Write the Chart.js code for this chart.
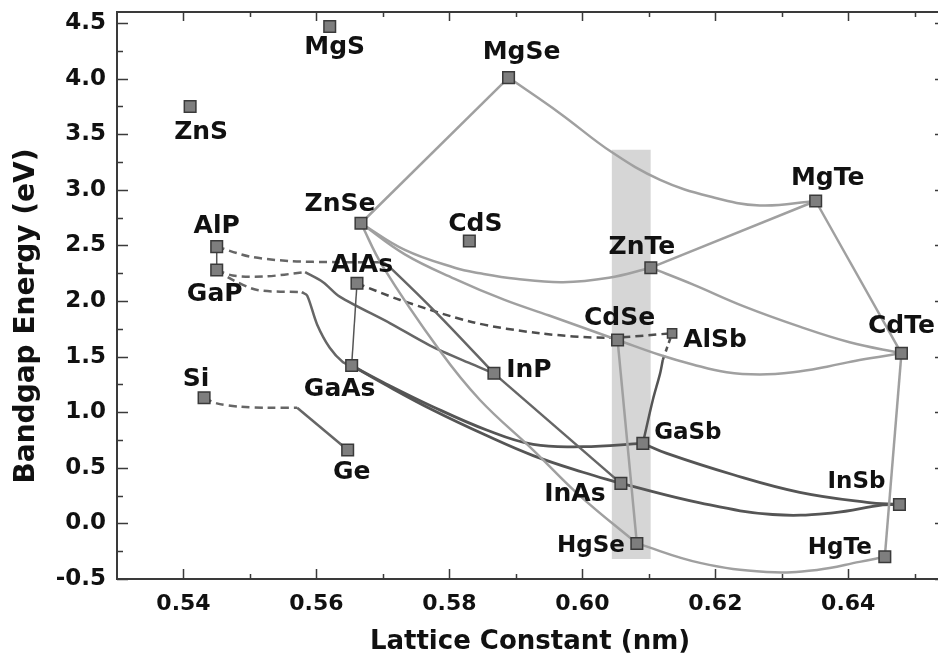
<!DOCTYPE html>
<html>
<head>
<meta charset="utf-8">
<script src="https://cdn.jsdelivr.net/npm/chart.js@4.4.1/dist/chart.umd.min.js"></script>
<style>
  html, body { margin: 0; padding: 0; background: #fff; }
</style>
</head>
<body>
<canvas id="chart" width="938" height="660"></canvas>
<script>
// ---- data ----
const compounds = ['MgS', 'ZnS', 'AlP', 'GaP', 'ZnSe', 'AlAs', 'CdS', 'MgSe', 'MgTe', 'ZnTe', 'CdSe',
                   'AlSb', 'CdTe', 'InP', 'GaAs', 'Si', 'Ge', 'GaSb', 'InAs', 'InSb', 'HgSe', 'HgTe'];
const latticeNm = [0.562, 0.541, 0.545, 0.545, 0.5667, 0.5661, 0.583, 0.5889, 0.6351, 0.6103, 0.6053,
                   0.6135, 0.648, 0.5867, 0.5653, 0.5431, 0.5647, 0.6091, 0.6058, 0.6477, 0.6082, 0.6455];
const bandgapEv = [4.47, 3.75, 2.49, 2.28, 2.70, 2.16, 2.54, 4.01, 2.90, 2.30, 1.65,
                   1.71, 1.53, 1.35, 1.42, 1.13, 0.66, 0.72, 0.36, 0.17, -0.18, -0.30];

const xTickValues = [0.54, 0.56, 0.58, 0.60, 0.62, 0.64];
const xMinorTicks = [0.55, 0.57, 0.59, 0.61, 0.63, 0.65];
const yTickValues = [-0.5, 0, 0.5, 1.0, 1.5, 2.0, 2.5, 3.0, 3.5, 4.0, 4.5];
const yMinorTicks = [-0.25, 0.25, 0.75, 1.25, 1.75, 2.25, 2.75, 3.25, 3.75, 4.25];

// grey window around 6.1 A
const windowLattice = [0.6044, 0.6103];
const windowEnergy = [-0.32, 3.36];

// II-VI alloys (light grey)
const znseMgse = [[0.5667, 2.70], [0.5889, 4.01]];
const mgseMgte = [[0.5889, 4.01], [0.5966, 3.69], [0.6044, 3.34], [0.6117, 3.09], [0.6192, 2.94], [0.6267, 2.86], [0.6351, 2.90]];
const znteMgte = [[0.6103, 2.30], [0.6351, 2.90]];
const mgteCdte = [[0.6351, 2.90], [0.648, 1.53]];
const znseZnte = [[0.5667, 2.70], [0.5733, 2.46], [0.5808, 2.30], [0.5846, 2.25], [0.5900, 2.20], [0.5971, 2.17], [0.6040, 2.21], [0.6103, 2.30]];
const znseCdse = [[0.5667, 2.70], [0.5733, 2.42], [0.5808, 2.20], [0.5883, 2.01], [0.5950, 1.87], [0.6011, 1.74], [0.6053, 1.65]];
const cdseCdte = [[0.6053, 1.65], [0.6117, 1.515], [0.6166, 1.43], [0.6217, 1.36], [0.6267, 1.34], [0.6317, 1.36], [0.6368, 1.41], [0.6417, 1.47], [0.648, 1.53]];
const znteCdte = [[0.6103, 2.30], [0.6166, 2.15], [0.6244, 1.95], [0.6327, 1.77], [0.6402, 1.63], [0.648, 1.53]];
const cdseHgse = [[0.6053, 1.65], [0.6082, -0.18]];
const hgseHgte = [[0.6082, -0.18], [0.6177, -0.355], [0.6277, -0.436], [0.6353, -0.418], [0.6417, -0.346], [0.6455, -0.30]];
const cdteHgte = [[0.648, 1.53], [0.6455, -0.30]];
const znseHgse = [[0.5667, 2.70], [0.5700, 2.31], [0.5786, 1.55], [0.5846, 1.11], [0.5926, 0.66], [0.5996, 0.25], [0.6082, -0.18]];

// III-V and group IV alloys (dark grey), dashed = indirect gap
const alpGap = [[0.545, 2.49], [0.545, 2.28]];
const alasGaas = [[0.5661, 2.16], [0.5653, 1.42]];
const gapInpDash = [[0.545, 2.28], [0.5474, 2.23], [0.552, 2.22], [0.5583, 2.26]];
const gapInp = [[0.5583, 2.26], [0.5610, 2.17], [0.5635, 2.04], [0.5711, 1.80], [0.5771, 1.60], [0.5835, 1.43], [0.5867, 1.35]];
const gapGaasDash = [[0.545, 2.28], [0.5474, 2.19], [0.5511, 2.10], [0.5578, 2.08]];
const gapGaas = [[0.5578, 2.08], [0.5586, 2.05], [0.5601, 1.79], [0.5620, 1.58], [0.5640, 1.45], [0.5653, 1.42]];
const alpInpDash = [[0.545, 2.49], [0.5500, 2.40], [0.5560, 2.36], [0.5630, 2.35], [0.5700, 2.35]];
const alpInp = [[0.5700, 2.35], [0.5711, 2.30], [0.5786, 1.86], [0.5867, 1.35]];
const inpInas = [[0.5867, 1.35], [0.6058, 0.36]];
const gaasGasb = [[0.5653, 1.42], [0.5700, 1.27], [0.5775, 1.05], [0.5856, 0.84], [0.5926, 0.71], [0.6001, 0.69], [0.6091, 0.72]];
const gaasInas = [[0.5653, 1.42], [0.5700, 1.26], [0.5775, 1.02], [0.5856, 0.79], [0.5926, 0.61], [0.6001, 0.46], [0.6058, 0.36]];
const gasbInsb = [[0.6091, 0.72], [0.6127, 0.63], [0.6226, 0.44], [0.6327, 0.28], [0.6428, 0.19], [0.6477, 0.17]];
const inasInsb = [[0.6058, 0.36], [0.6177, 0.185], [0.6286, 0.08], [0.6377, 0.095], [0.6452, 0.166], [0.6477, 0.17]];
const gasbAlsb = [[0.6091, 0.72], [0.6106, 1.11], [0.6117, 1.35], [0.6121, 1.47]];
const gasbAlsbDash = [[0.6121, 1.47], [0.6135, 1.71]];
const alasAlsbDash = [[0.5661, 2.16], [0.5726, 2.01], [0.5835, 1.81], [0.5936, 1.71], [0.6037, 1.67], [0.6135, 1.71]];
const siGeDash = [[0.5431, 1.13], [0.545, 1.08], [0.5485, 1.05], [0.5526, 1.04], [0.5571, 1.04]];
const siGe = [[0.5571, 1.04], [0.5647, 0.66]];

// label placement (pixel offset from the marker centre)
const labelOffsets = {
  MgS: [5, 21], ZnS: [11, 26], AlP: [0, -20], GaP: [-2, 25], ZnSe: [-21, -19], AlAs: [5, -18],
  CdS: [6, -17], MgSe: [13, -25], MgTe: [12, -23], ZnTe: [-9, -20], CdSe: [2, -21], AlSb: [43, 7],
  CdTe: [0, -27], InP: [35, -3], GaAs: [-12, 24], Si: [-8, -18], Ge: [4, 22], GaSb: [45, -10],
  InAs: [-46, 11], InSb: [-43, -22], HgSe: [-46, 3], HgTe: [-45, -9]
};
const smallLabels = ['GaSb', 'InSb', 'HgSe', 'HgTe'];

const LIGHT = '#a0a0a0';
const DARK = '#555555';
const MID = '#666666';

function curve(points, color, width, dash, tension) {
  return {
    type: 'line',
    data: points.map(p => ({x: p[0], y: p[1]})),
    borderColor: color,
    borderWidth: width,
    borderDash: dash || [],
    tension: tension === undefined ? 0.4 : tension,
    pointRadius: 0,
    fill: false,
    order: 5
  };
}

const datasets = [
  {
    type: 'line',
    data: compounds.map((c, i) => ({x: latticeNm[i], y: bandgapEv[i]})),
    showLine: false,
    pointStyle: 'rect',
    pointRadius: ctx => (compounds[ctx.dataIndex] === 'AlSb' ? 6.5 : 8.2),
    backgroundColor: '#7e7e7e',
    borderColor: '#3a3a3a',
    borderWidth: 1.5,
    order: 0
  },
  curve(znseMgse, LIGHT, 2.5, null, 0),
  curve(mgseMgte, LIGHT, 2.5),
  curve(znteMgte, LIGHT, 2.5, null, 0),
  curve(mgteCdte, LIGHT, 2.5, null, 0),
  curve(znseZnte, LIGHT, 2.5),
  curve(znseCdse, LIGHT, 2.5),
  curve(cdseCdte, LIGHT, 2.5),
  curve(znteCdte, LIGHT, 2.5),
  curve(cdseHgse, LIGHT, 2.5, null, 0),
  curve(hgseHgte, LIGHT, 2.5),
  curve(cdteHgte, LIGHT, 2.5, null, 0),
  curve(znseHgse, LIGHT, 2.5),
  curve(alpGap, DARK, 1.5, null, 0),
  curve(alasGaas, DARK, 1.5, null, 0),
  curve(gapInpDash, MID, 2.5, [8, 5], 0.3),
  curve(gapInp, MID, 2.5, null, 0.3),
  curve(gapGaasDash, MID, 2.5, [8, 5], 0.3),
  curve(gapGaas, MID, 2.5, null, 0.3),
  curve(alpInpDash, MID, 2.5, [8, 5], 0.3),
  curve(alpInp, MID, 2.5, null, 0.3),
  curve(inpInas, MID, 2.5, null, 0),
  curve(gaasGasb, DARK, 2.8),
  curve(gaasInas, DARK, 2.8),
  curve(gasbInsb, DARK, 2.8),
  curve(inasInsb, DARK, 2.8),
  curve(gasbAlsb, DARK, 2.5, null, 0.3),
  curve(gasbAlsbDash, DARK, 2.5, [5, 4], 0),
  curve(alasAlsbDash, '#4d4d4d', 2.5, [8, 5], 0.3),
  curve(siGeDash, MID, 2.5, [8, 5], 0.3),
  curve(siGe, MID, 2.5, null, 0),
  {
    type: 'line',
    data: [{x: windowLattice[0], y: windowEnergy[1]}, {x: windowLattice[1], y: windowEnergy[1]}],
    borderWidth: 0,
    pointRadius: 0,
    backgroundColor: '#d6d6d6',
    fill: {value: windowEnergy[0]},
    order: 20
  }
];

const FRAME = '#3a3a3a';

const framePlugin = {
  id: 'frame',
  afterDraw(chart) {
    const {ctx, chartArea: a, scales: {x, y}} = chart;
    ctx.save();
    ctx.strokeStyle = FRAME;
    ctx.lineWidth = 2;
    ctx.beginPath();
    ctx.moveTo(a.left, a.top);
    ctx.lineTo(a.right, a.top);
    ctx.stroke();
    ctx.lineWidth = 1.5;
    ctx.beginPath();
    xTickValues.forEach(v => {
      const px = Math.round(x.getPixelForValue(v)) + 0.5;
      ctx.moveTo(px, a.bottom); ctx.lineTo(px, a.bottom - 10);
      ctx.moveTo(px, a.top); ctx.lineTo(px, a.top + 9);
    });
    xMinorTicks.forEach(v => {
      const px = Math.round(x.getPixelForValue(v)) + 0.5;
      ctx.moveTo(px, a.bottom); ctx.lineTo(px, a.bottom - 5);
      ctx.moveTo(px, a.top); ctx.lineTo(px, a.top + 5);
    });
    yTickValues.forEach(v => {
      const py = Math.round(y.getPixelForValue(v)) + 0.5;
      ctx.moveTo(a.left, py); ctx.lineTo(a.left + 11, py);
      ctx.moveTo(a.right, py); ctx.lineTo(a.right - 3, py);
    });
    yMinorTicks.forEach(v => {
      const py = Math.round(y.getPixelForValue(v)) + 0.5;
      ctx.moveTo(a.left, py); ctx.lineTo(a.left + 6, py);
    });
    ctx.stroke();

    // axis titles
    ctx.fillStyle = '#111';
    ctx.textAlign = 'center';
    ctx.textBaseline = 'middle';
    ctx.font = 'bold 26px "DejaVu Sans"';
    ctx.fillText('Lattice Constant (nm)', 530, 642);
    ctx.translate(27, 316);
    ctx.rotate(-Math.PI / 2);
    ctx.font = 'bold 28px "DejaVu Sans"';
    ctx.fillText('Bandgap Energy (eV)', 0, 0);
    ctx.restore();
  }
};

const labelPlugin = {
  id: 'compoundLabels',
  afterDatasetsDraw(chart) {
    const {ctx, scales: {x, y}} = chart;
    ctx.save();
    ctx.fillStyle = '#111';
    ctx.textAlign = 'center';
    ctx.textBaseline = 'middle';
    compounds.forEach((name, i) => {
      const off = labelOffsets[name];
      ctx.font = smallLabels.includes(name) ? 'bold 23px "DejaVu Sans"' : 'bold 25px "DejaVu Sans"';
      ctx.fillText(name, x.getPixelForValue(latticeNm[i]) + off[0], y.getPixelForValue(bandgapEv[i]) + off[1]);
    });
    ctx.restore();
  }
};

function pinBox(size, key) {
  return scale => {
    scale[key] = size;
    scale.paddingTop = 0;
    scale.paddingBottom = 0;
    scale.paddingLeft = 0;
    scale.paddingRight = 0;
  };
}

new Chart(document.getElementById('chart'), {
  type: 'line',
  data: {datasets: datasets},
  options: {
    responsive: false,
    animation: false,
    events: [],
    layout: {autoPadding: false, padding: {top: 12, left: 0, right: 0, bottom: 0}},
    plugins: {legend: {display: false}, tooltip: {enabled: false}},
    scales: {
      x: {
        type: 'linear',
        min: 0.53,
        max: 0.6535,
        afterFit: pinBox(81, 'height'),
        afterBuildTicks: scale => { scale.ticks = xTickValues.map(v => ({value: v})); },
        grid: {display: false, drawTicks: false},
        border: {display: true, color: FRAME, width: 2},
        ticks: {
          autoSkip: false, maxRotation: 0, padding: 12, color: '#111',
          font: {family: 'DejaVu Sans', size: 22, weight: 'bold'},
          callback: v => v.toFixed(2)
        }
      },
      y: {
        type: 'linear',
        min: -0.5,
        max: 4.6,
        afterFit: pinBox(117, 'width'),
        afterBuildTicks: scale => { scale.ticks = yTickValues.map(v => ({value: v})); },
        grid: {display: false, drawTicks: false},
        border: {display: true, color: FRAME, width: 2},
        ticks: {
          autoSkip: false, padding: 11, color: '#111',
          font: {family: 'DejaVu Sans', size: 23, weight: 'bold', lineHeight: 1},
          callback: v => v.toFixed(1)
        }
      }
    }
  },
  plugins: [framePlugin, labelPlugin]
});
</script>
</body>
</html>
